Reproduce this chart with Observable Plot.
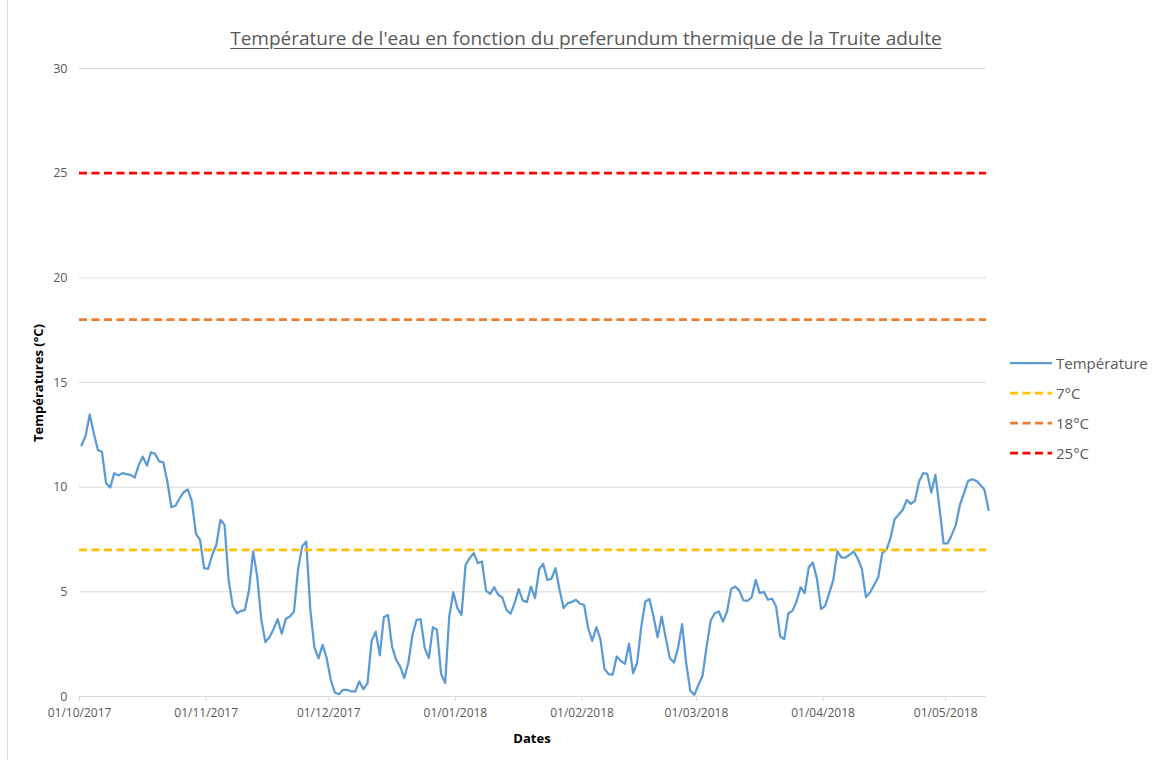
<!DOCTYPE html>
<html>
<head>
<meta charset="utf-8">
<script src="https://cdn.jsdelivr.net/npm/d3@7"></script>
<script src="https://cdn.jsdelivr.net/npm/@observablehq/plot@0.6"></script>
<style>
  body { margin: 0; background: #fff; font-family: "Open Sans", sans-serif; }
  #wrap { position: relative; width: 1152px; height: 760px; overflow: hidden; }
  #frame { position: absolute; left: 7px; top: 0; width: 0; height: 760px; border-left: 1px solid #d9d9d9; }
  #title { position: absolute; left: 586px; top: 25px; transform: translateX(-50%); white-space: nowrap;
           font-size: 19px; color: #595959; text-decoration: underline; text-underline-offset: 3px; }
  #ylabel { position: absolute; left: 38px; top: 383px; transform: translate(-50%, -50%) rotate(-90deg);
            white-space: nowrap; font-size: 13px; font-weight: bold; color: #000; }
  #xlabel { position: absolute; left: 532px; top: 738px; transform: translate(-50%, -50%);
            font-size: 13px; font-weight: bold; color: #000; }
  #legend { position: absolute; left: 1010px; top: 348px; }
  .item { height: 30px; display: flex; align-items: center; font-size: 15px; color: #595959; }
  .item svg { margin-right: 4px; }
  #chart { position: absolute; left: 0; top: 0; }
</style>
</head>
<body>
<div id="wrap">
  <div id="frame"></div>
  <div id="chart"></div>
  <div id="title"></div>
  <div id="ylabel"></div>
  <div id="xlabel"></div>
  <div id="legend"></div>
</div>
<script>
// ---- Data ----
const titleText = "Température de l'eau en fonction du preferundum thermique de la Truite adulte";
const yAxisTitle = "Températures (°C)";
const xAxisTitle = "Dates";
const startDate = "2017-10-01"; // daily readings from this date
const temperatures = [
  12.0, 12.45, 13.47, 12.58, 11.78, 11.69, 10.19, 9.98, 10.67, 10.56,
  10.67, 10.62, 10.59, 10.46, 11.05, 11.46, 11.03, 11.67, 11.59, 11.23,
  11.19, 10.27, 9.04, 9.11, 9.47, 9.76, 9.89, 9.32, 7.77, 7.48,
  6.13, 6.10, 6.77, 7.25, 8.44, 8.20, 5.57, 4.33, 3.98, 4.08,
  4.14, 5.1, 6.93, 5.73, 3.66, 2.6, 2.83, 3.22, 3.69, 3.0,
  3.71, 3.82, 4.06, 6.08, 7.17, 7.40, 4.14, 2.34, 1.82, 2.47,
  1.83, 0.80, 0.19, 0.11, 0.32, 0.32, 0.24, 0.24, 0.72, 0.35,
  0.64, 2.66, 3.1, 1.97, 3.79, 3.90, 2.39, 1.75, 1.43, 0.88,
  1.62, 2.95, 3.66, 3.69, 2.31, 1.83, 3.31, 3.18, 1.08, 0.64,
  3.82, 4.98, 4.22, 3.90, 6.29, 6.61, 6.85, 6.37, 6.45, 5.06,
  4.90, 5.22, 4.86, 4.73, 4.14, 3.95, 4.46, 5.13, 4.59, 4.51,
  5.25, 4.70, 6.08, 6.34, 5.57, 5.62, 6.13, 5.10, 4.22, 4.46,
  4.51, 4.62, 4.43, 4.38, 3.26, 2.66, 3.31, 2.74, 1.31, 1.07,
  1.05, 1.91, 1.70, 1.56, 2.52, 1.11, 1.62, 3.34, 4.54, 4.65,
  3.82, 2.83, 3.82, 2.79, 1.83, 1.62, 2.31, 3.46, 1.59, 0.27,
  0.08, 0.56, 0.99, 2.39, 3.63, 3.98, 4.06, 3.58, 4.06, 5.14,
  5.25, 5.06, 4.59, 4.57, 4.73, 5.57, 4.94, 5.0, 4.62, 4.68,
  4.30, 2.87, 2.75, 3.98, 4.09, 4.54, 5.22, 4.94, 6.18, 6.40,
  5.62, 4.17, 4.33, 4.94, 5.57, 6.93, 6.64, 6.64, 6.77, 6.93,
  6.58, 6.10, 4.75, 4.97, 5.33, 5.70, 6.85, 7.01, 7.56, 8.47,
  8.68, 8.92, 9.39, 9.20, 9.36, 10.27, 10.67, 10.64, 9.75, 10.59,
  9.0, 7.32, 7.32, 7.72, 8.20, 9.16, 9.71, 10.30, 10.38, 10.30,
  10.11, 9.87, 8.92
];
const seriesName = "Température";
const thresholdValues = [7, 18, 25];
const thresholdNames = ["7°C", "18°C", "25°C"];
const thresholdColors = ["#ffc000", "#ed7d31", "#ff0000"];
const lineColor = "#5b9bd5";
const xTickLabels = ["01/10/2017", "01/11/2017", "01/12/2017", "01/01/2018", "01/02/2018", "01/03/2018", "01/04/2018", "01/05/2018"];
const yTicks = [0, 5, 10, 15, 20, 25, 30];
const xDomainEnd = "2018-05-11";

// ---- Build ----
const parse = d3.utcParse("%d/%m/%Y");
const t0 = d3.utcParse("%Y-%m-%d")(startDate);
// each daily reading sits in the middle of its day slot (Excel date axis)
const data = temperatures.map((v, i) => ({ date: d3.utcHour.offset(d3.utcDay.offset(t0, i), 12), temp: v }));
const xTicks = xTickLabels.map(parse);
const fmt = d3.utcFormat("%d/%m/%Y");
const thresholds = thresholdValues.map((v, i) => ({ v, name: thresholdNames[i], color: thresholdColors[i] }));

const chart = Plot.plot({
  width: 1152,
  height: 760,
  marginLeft: 79,
  marginRight: 166,
  marginTop: 68,
  marginBottom: 64,
  style: { fontFamily: "Open Sans, sans-serif", fontSize: "12px", color: "#595959", background: "transparent" },
  x: { type: "utc", domain: [t0, d3.utcParse("%Y-%m-%d")(xDomainEnd)] },
  y: { domain: [0, 30] },
  marks: [
    Plot.ruleY(yTicks, { stroke: "#d9d9d9", strokeWidth: 1 }),
    Plot.axisY({ ticks: yTicks, tickSize: 0, tickPadding: 12, label: null, fill: "#595959", fontSize: 12.5 }),
    Plot.axisX({ ticks: xTicks, tickFormat: fmt, tickSize: 5, tickPadding: 7, stroke: "#d9d9d9", fill: "#595959", label: null }),
    Plot.lineY(data, { x: "date", y: "temp", stroke: lineColor, strokeWidth: 2.25, strokeLinejoin: "round" }),
    Plot.ruleY(thresholds, { y: "v", stroke: "color", strokeWidth: 2.75, strokeDasharray: "8,4.5" })
  ]
});
document.getElementById("chart").appendChild(chart);

document.getElementById("title").textContent = titleText;
document.getElementById("ylabel").textContent = yAxisTitle;
document.getElementById("xlabel").textContent = xAxisTitle;

const legend = document.getElementById("legend");
const items = [{ name: seriesName, color: lineColor, dash: null }].concat(
  thresholds.map(t => ({ name: t.name, color: t.color, dash: "8,4.5" })));
for (const it of items) {
  const row = document.createElement("div");
  row.className = "item";
  const ns = "http://www.w3.org/2000/svg";
  const svg = document.createElementNS(ns, "svg");
  svg.setAttribute("width", "42"); svg.setAttribute("height", "10");
  const ln = document.createElementNS(ns, "line");
  ln.setAttribute("x1", "0"); ln.setAttribute("x2", "42"); ln.setAttribute("y1", "5"); ln.setAttribute("y2", "5");
  ln.setAttribute("stroke", it.color);
  ln.setAttribute("stroke-width", it.dash ? "2.75" : "2.25");
  if (it.dash) ln.setAttribute("stroke-dasharray", it.dash);
  svg.appendChild(ln);
  row.appendChild(svg);
  const span = document.createElement("span");
  span.textContent = it.name;
  row.appendChild(span);
  legend.appendChild(row);
}
</script>
</body>
</html>
